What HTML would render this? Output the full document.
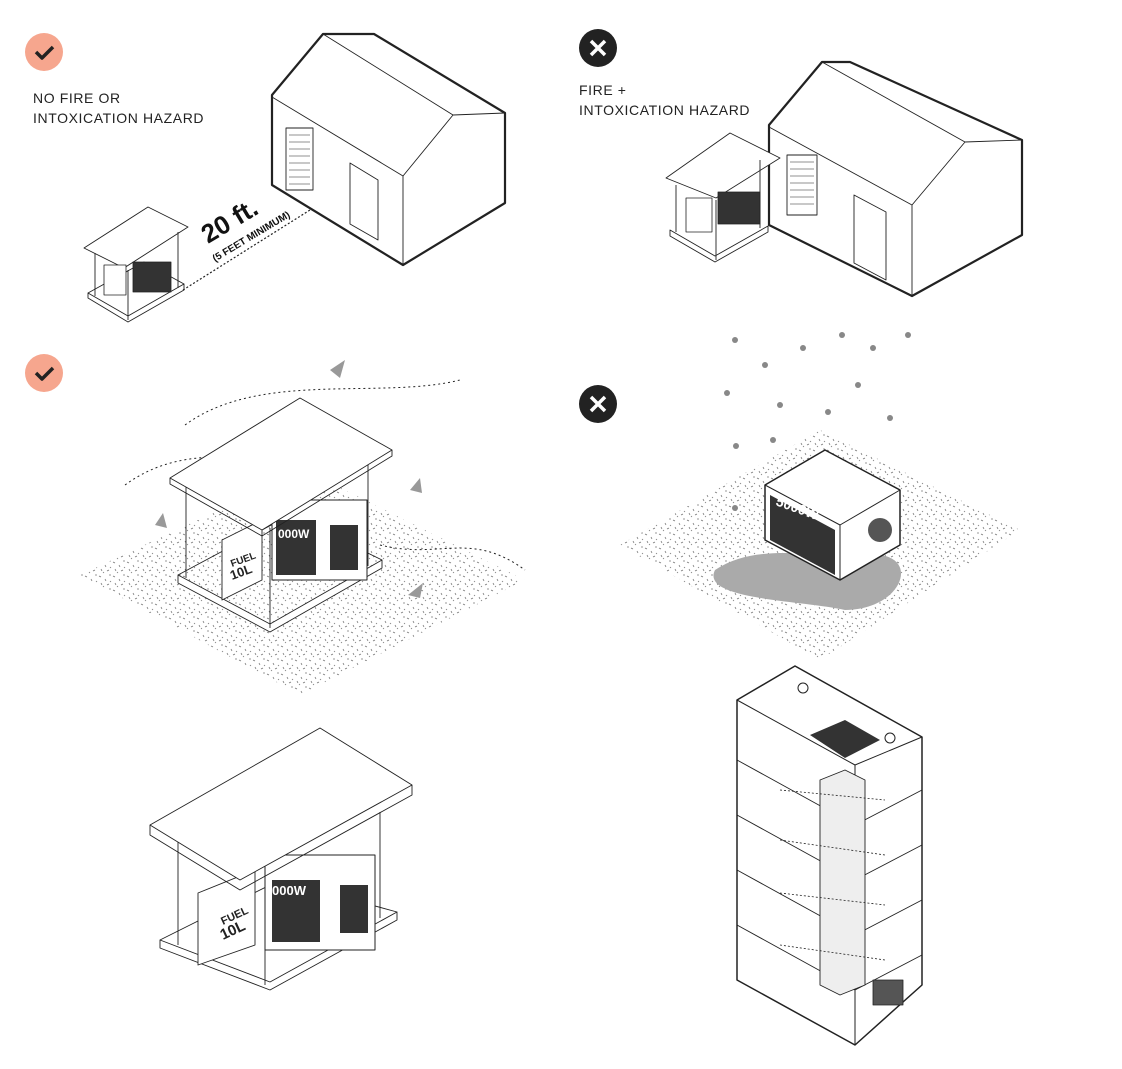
<!DOCTYPE html>
<html><head><meta charset="utf-8"><style>
body{margin:0;background:#fff;}
svg{display:block;font-family:"Liberation Sans",sans-serif;}
</style></head><body>
<svg width="1122" height="1069" viewBox="0 0 1122 1069" xmlns="http://www.w3.org/2000/svg">
<defs>
<pattern id="st" width="14" height="14" patternUnits="userSpaceOnUse">
<path d="M1 2l2 1M7 5l1 2M11 1l2 0M3 9l1 2M9 11l2-1M12 7l1 1M5 13l1-1" stroke="#777" stroke-width="0.8"/>
</pattern>
</defs>
<g stroke="#222" fill="none" stroke-linejoin="round">

<!-- icons -->
<circle cx="44" cy="52" r="19" fill="#f6a68e" stroke="none"/>
<path d="M36 52l6 6 11-11" stroke="#222" stroke-width="3.5"/>
<circle cx="44" cy="373" r="19" fill="#f6a68e" stroke="none"/>
<path d="M36 373l6 6 11-11" stroke="#222" stroke-width="3.5"/>
<circle cx="598" cy="48" r="19" fill="#222" stroke="none"/>
<path d="M591 41l14 14M605 41l-14 14" stroke="#fff" stroke-width="3.5"/>
<circle cx="598" cy="404" r="19" fill="#222" stroke="none"/>
<path d="M591 397l14 14M605 397l-14 14" stroke="#fff" stroke-width="3.5"/>

<!-- house 1 -->
<path d="M272 95L323 34L374 34L505 113L505 203L403 265L272 185Z" stroke-width="2.2"/>
<path d="M272 97L403 176L453 115L505 113M323 34L453 115M403 176L403 265" stroke-width="0.9"/>
<rect x="286" y="128" width="27" height="62" stroke-width="0.9" transform="skewY(0)"/>
<path d="M289 135h21M289 142h21M289 149h21M289 156h21M289 163h21M289 170h21M289 177h21M289 184h21" stroke-width="0.6"/>
<path d="M350 163L378 180L378 240L350 224Z" stroke-width="0.9"/>
<path d="M183 290L310 210" stroke-dasharray="2 2" stroke-width="1.2"/>
<text x="0" y="0" transform="translate(208,244) rotate(-31)" font-size="26" font-weight="bold" fill="#111" stroke="none">20 ft.</text>
<text x="0" y="0" transform="translate(215,262) rotate(-31)" font-size="10" font-weight="bold" fill="#111" stroke="none">(5 FEET MINIMUM)</text>

<!-- small shelter 1 -->
<path d="M84 248L148 207L188 227L124 268Z" stroke-width="0.9" fill="#fff"/>
<path d="M88 293L88 298L128 322L184 290L184 284L128 316Z" stroke-width="0.9"/>
<path d="M88 293L144 262L184 284" stroke-width="0.9"/>
<path d="M95 253V296M128 270V320M178 232V288" stroke-width="0.9"/>
<rect x="133" y="262" width="38" height="30" fill="#333" stroke-width="0.8"/>
<rect x="104" y="265" width="22" height="30" fill="#fff" stroke-width="0.8"/>

<!-- house 2 -->
<path d="M769 125L822 62L850 62L1022 140L1022 235L912 296L769 225Z" stroke-width="2.2"/>
<path d="M769 127L912 205L965 142L1022 140M822 62L965 142M912 205L912 296" stroke-width="0.9"/>
<rect x="787" y="155" width="30" height="60" stroke-width="0.9"/>
<path d="M790 162h24M790 169h24M790 176h24M790 183h24M790 190h24M790 197h24M790 204h24" stroke-width="0.6"/>
<path d="M854 195L886 212L886 280L854 263Z" stroke-width="0.9"/>
<!-- small shelter 2 -->
<path d="M666 178L730 133L780 158L716 198Z" stroke-width="0.9" fill="#fff"/>
<path d="M670 230L670 236L715 262L768 232L768 226L715 256Z" stroke-width="0.9"/>
<path d="M676 185V232M716 200V260M760 160V228" stroke-width="0.9"/>
<rect x="718" y="192" width="42" height="32" fill="#333" stroke-width="0.8"/>
<rect x="686" y="198" width="26" height="34" fill="#fff" stroke-width="0.8"/>

<text x="33" y="103" font-size="14" fill="#222" stroke="none" letter-spacing="0.6">NO FIRE OR</text>
<text x="33" y="123" font-size="14" fill="#222" stroke="none" letter-spacing="0.6">INTOXICATION HAZARD</text>
<text x="579" y="95" font-size="14" fill="#222" stroke="none" letter-spacing="0.6">FIRE +</text>
<text x="579" y="115" font-size="14" fill="#222" stroke="none" letter-spacing="0.6">INTOXICATION HAZARD</text>

<!-- stipple ground 1 -->
<path d="M80 575L305 470L525 580L300 695Z" fill="url(#st)" stroke="none"/>
<path d="M185 425C260 370 380 400 460 380" stroke-dasharray="2 3" stroke-width="1"/>
<path d="M125 485C200 430 280 480 330 440" stroke-dasharray="2 3" stroke-width="1"/>
<path d="M380 545C440 560 470 530 525 570" stroke-dasharray="2 3" stroke-width="1"/>
<path d="M300 440l20-5-10 12zM330 370l15-10-5 18zM410 490l10-12 2 15zM155 525l8-12 4 15zM408 595l15-12-3 15z" fill="#999" stroke="none"/>
<!-- shelter 2 -->
<path d="M178 575L178 583L270 632L382 568L382 560L270 624Z" fill="#fff" stroke-width="0.9"/>
<path d="M178 575L290 515L382 560" stroke-width="0.9"/>
<rect x="272" y="500" width="95" height="80" fill="#fff" stroke-width="1"/>
<rect x="276" y="520" width="40" height="55" fill="#333" stroke="none"/>
<rect x="330" y="525" width="28" height="45" fill="#333" stroke="none"/>
<text x="278" y="538" font-size="12" font-weight="bold" fill="#fff" stroke="none">000W</text>
<path d="M222 540L262 520L262 580L222 600Z" fill="#fff" stroke-width="0.9"/>
<text x="232" y="567" font-size="10" font-weight="bold" fill="#222" stroke="none" transform="rotate(-20 232 567)">FUEL</text>
<text x="232" y="580" font-size="13" font-weight="bold" fill="#222" stroke="none" transform="rotate(-20 232 580)">10L</text>
<path d="M186 480V578M270 528V628M368 465V566" stroke-width="0.9"/>
<path d="M170 478L300 398L392 450L262 530Z" fill="#fff" stroke-width="0.9"/>
<path d="M170 478L170 484L262 536L392 456L392 450" stroke-width="0.9"/>

<!-- stipple ground 2 and generator -->
<path d="M620 545L820 430L1020 530L820 660Z" fill="url(#st)" stroke="none"/>
<path d="M715 570C760 540 820 560 880 555C920 560 900 610 845 610C800 600 700 600 715 570Z" fill="#aaa" stroke="none"/>
<g fill="#888" stroke="none">
<circle cx="735" cy="340" r="3"/><circle cx="765" cy="365" r="3"/><circle cx="803" cy="348" r="3"/><circle cx="842" cy="335" r="3"/><circle cx="873" cy="348" r="3"/><circle cx="908" cy="335" r="3"/><circle cx="727" cy="393" r="3"/><circle cx="780" cy="405" r="3"/><circle cx="858" cy="385" r="3"/><circle cx="828" cy="412" r="3"/><circle cx="890" cy="418" r="3"/><circle cx="736" cy="446" r="3"/><circle cx="773" cy="440" r="3"/><circle cx="735" cy="508" r="3"/>
</g>
<path d="M765 485L825 450L900 490L900 545L840 580L765 540Z" fill="#fff" stroke-width="1.5"/>
<path d="M765 485L840 525L900 490M840 525V580" stroke-width="1"/>
<path d="M770 495L835 530V575L770 540Z" fill="#333" stroke="none"/>
<text x="775" y="505" font-size="14" font-weight="bold" fill="#fff" stroke="none" transform="rotate(20 775 505)" style="paint-order:stroke" >5000W</text>
<circle cx="880" cy="530" r="12" fill="#555" stroke="none"/>

<!-- shelter 3 -->
<path d="M160 940L160 948L270 990L397 920L397 912L270 982Z" fill="#fff" stroke-width="0.9"/>
<path d="M160 940L280 880L397 912" stroke-width="0.9"/>
<rect x="265" y="855" width="110" height="95" fill="#fff" stroke-width="1"/>
<rect x="272" y="880" width="48" height="62" fill="#333" stroke="none"/>
<rect x="340" y="885" width="28" height="48" fill="#333" stroke="none"/>
<text x="272" y="895" font-size="13" font-weight="bold" fill="#fff" stroke="none">000W</text>
<path d="M198 893L255 870L255 945L198 965Z" fill="#fff" stroke-width="0.9"/>
<text x="223" y="925" font-size="11" font-weight="bold" fill="#222" stroke="none" transform="rotate(-25 223 925)">FUEL</text>
<text x="223" y="940" font-size="15" font-weight="bold" fill="#222" stroke="none" transform="rotate(-25 223 940)">10L</text>
<path d="M178 838V945M265 885V985M380 812V918" stroke-width="0.9"/>
<path d="M150 825L320 728L412 785L240 880Z" fill="#fff" stroke-width="0.9"/>
<path d="M150 825L150 835L240 890L412 795L412 785" stroke-width="0.9"/>

<!-- building -->
<path d="M737 700L795 666L922 737L922 985L855 1045L737 980Z" fill="#fff" stroke-width="1.5"/>
<path d="M737 700L855 765L922 737M855 765V1045" stroke-width="1"/>
<path d="M737 760L855 825L922 790M737 815L855 880L922 845M737 870L855 935L922 900M737 925L855 990L922 955" stroke-width="0.9"/>
<path d="M810 735L845 720L880 740L845 758Z" fill="#333" stroke="none"/>
<path d="M820 780L845 770L865 780V985L840 995L820 985Z" fill="#eee" stroke-width="0.9"/>
<path d="M780 790L885 800M780 840L885 855M780 893L885 905M780 945L885 960" stroke-dasharray="2 2" stroke-width="0.8"/>
<circle cx="803" cy="688" r="5"/><circle cx="890" cy="738" r="5"/>
<rect x="873" y="980" width="30" height="25" fill="#555" stroke-width="0.8"/>
</g>
</svg>
</body></html>
